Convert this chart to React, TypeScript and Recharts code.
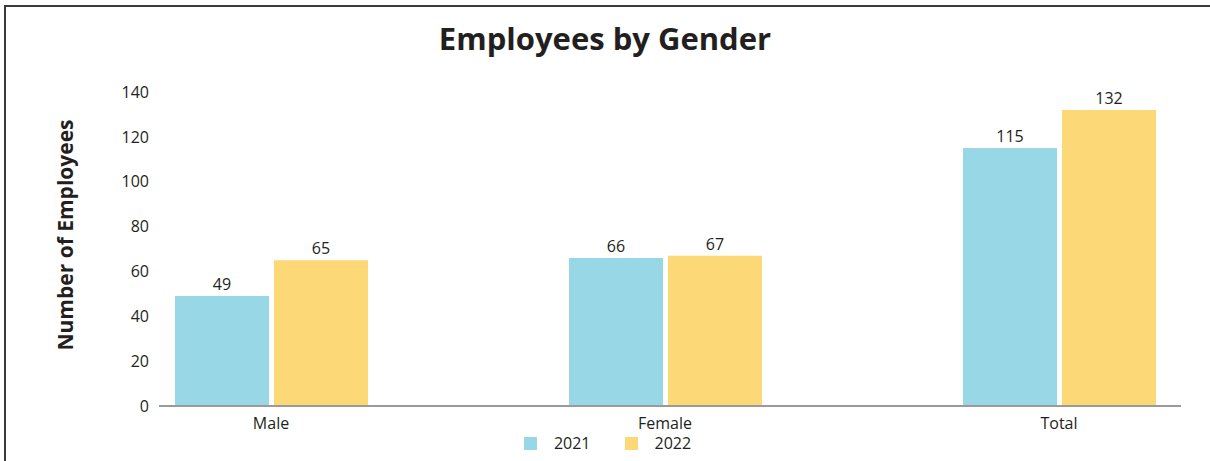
import React from "react";
import {
  BarChart,
  Bar,
  XAxis,
  YAxis,
  Legend,
  LabelList,
} from "recharts";

const categories = ["Male", "Female", "Total"];
const values2021 = [49, 66, 115];
const values2022 = [65, 67, 132];
const yTicks = [0, 20, 40, 60, 80, 100, 120, 140];

const FONT = "'Open Sans', 'Noto Sans', sans-serif";
const BLUE = "#97d7e6";
const YELLOW = "#fcd877";

const chartData = categories.map((name, i) => ({
  name,
  y2021: values2021[i],
  y2022: values2022[i],
}));

function YTitle(props: any) {
  const { viewBox } = props;
  const cx = 65;
  const cy = viewBox.y + viewBox.height / 2 - 14;
  return (
    <text
      x={cx}
      y={cy}
      transform={`rotate(-90 ${cx} ${cy})`}
      textAnchor="middle"
      dominantBaseline="central"
      style={{ fontFamily: FONT, fontWeight: 700, fontSize: 21, fill: "#231f20" }}
    >
      Number of Employees
    </text>
  );
}

function LegendContent(props: any) {
  const { payload } = props;
  return (
    <div
      style={{
        display: "flex",
        justifyContent: "center",
        height: 20,
        alignItems: "center",
        fontFamily: FONT,
        fontSize: 16,
        color: "#231f20",
        paddingLeft: 68,
      }}
    >
      {payload.map((p: any) => (
        <div key={p.value} style={{ display: "flex", alignItems: "center", marginRight: 34 }}>
          <span style={{ width: 13, height: 13, background: p.color, display: "inline-block", marginRight: 17 }} />
          <span>{p.value}</span>
        </div>
      ))}
    </div>
  );
}

const tickStyle = { fontFamily: FONT, fontSize: 16, fill: "#231f20" };

export default function App() {
  return (
    <div style={{ position: "absolute", top: 0, left: 0, width: 1210, height: 461, background: "#fff" }}>
      <div
        style={{
          position: "absolute",
          top: 5,
          left: 4,
          right: 0,
          bottom: 0,
          borderTop: "2px solid #3a3a3a",
          borderLeft: "2px solid #3a3a3a",
        }}
      />
      <div
        style={{
          position: "absolute",
          top: 18,
          left: 0,
          width: 1210,
          textAlign: "center",
          fontFamily: FONT,
          fontWeight: 700,
          fontSize: 31,
          lineHeight: "40px",
          color: "#231f20",
        }}
      >
        Employees by Gender
      </div>
      <div style={{ position: "absolute", top: 0, left: 0 }}>
        <BarChart
          width={1210}
          height={461}
          data={chartData}
          margin={{ top: 92, right: 29, bottom: 8, left: 0 }}
          barSize={94}
          barGap={5}
        >
          <YAxis
            width={159}
            domain={[0, 140]}
            ticks={yTicks}
            axisLine={false}
            tickLine={false}
            tickSize={0}
            tickMargin={10}
            tick={tickStyle}
            label={<YTitle />}
          />
          <XAxis
            dataKey="name"
            height={27}
            padding={{ left: -85, right: -75 }}
            axisLine={{ stroke: "#9a9a9a", strokeWidth: 2 }}
            tickLine={false}
            tickSize={0}
            tickMargin={12}
            tick={tickStyle}
          />
          <Legend verticalAlign="bottom" content={<LegendContent />} />
          <Bar dataKey="y2021" name="2021" fill={BLUE} isAnimationActive={false}>
            <LabelList dataKey="y2021" position="top" offset={6} style={tickStyle} />
          </Bar>
          <Bar dataKey="y2022" name="2022" fill={YELLOW} isAnimationActive={false}>
            <LabelList dataKey="y2022" position="top" offset={6} style={tickStyle} />
          </Bar>
        </BarChart>
      </div>
    </div>
  );
}
